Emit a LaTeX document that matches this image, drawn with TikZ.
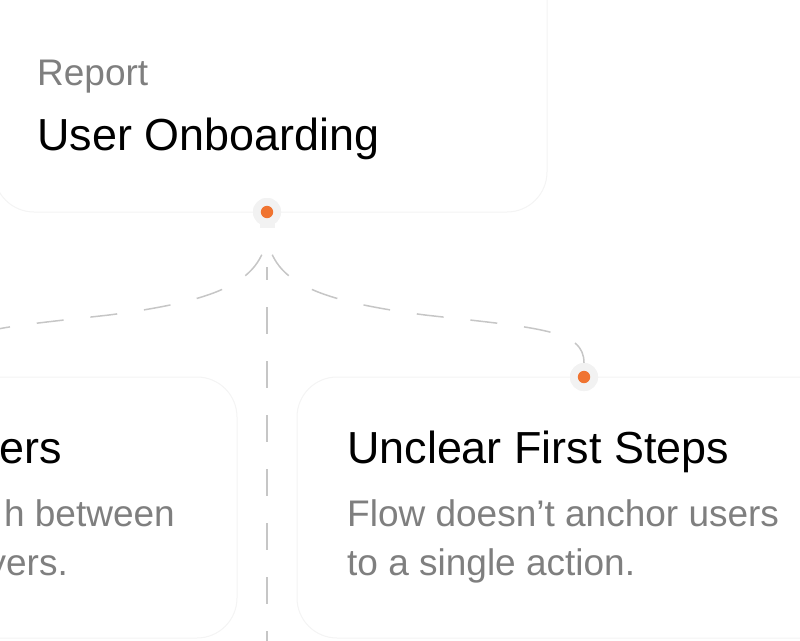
\documentclass[tikz,border=0pt]{standalone}
\usepackage{fontspec}
\setmainfont{Liberation Sans}

\definecolor{pinorange}{HTML}{F07431}
\definecolor{pinback}{HTML}{F2F2F2}
\definecolor{linkgray}{HTML}{C6C6C6}
\definecolor{cardline}{HTML}{F4F4F4}
\definecolor{mutedtext}{HTML}{7F7F7F}

\tikzset{
	card/.style={draw=cardline, line width=1pt, rounded corners=40pt, fill=white},
	pin/.style={circle, fill=pinback, minimum size=28pt, inner sep=0pt},
	link/.style={linkgray, line width=1.5pt, dash pattern=on 27pt off 27pt},
	heading/.style={anchor=base west, inner sep=0pt, text=black, font=\fontsize{44.9}{50}\selectfont},
	body/.style={anchor=base west, inner sep=0pt, text=mutedtext, font=\fontsize{37}{44}\selectfont},
}

\begin{document}
\begin{tikzpicture}[x=1pt,y=-1pt]
		\useasboundingbox (0,0) rectangle (800,640);
		\clip (0,0) rectangle (800,640);

		% cards
		\draw[card] (-6,-60) rectangle (547,212);
		\draw[card] (-300,377) rectangle (237,638);
		\draw[card] (297,377) rectangle (860,638);

		% anchor points
		\coordinate (fork) at (267,238);
		\coordinate (trunkTop) at (267,267);
		\coordinate (trunkEnd) at (267,660);
		\node[pin] (pinTop) at (267,212) {};
		\node[pin] (pinRight) at (584,377) {};
		\node[pin] (pinLeft) at (-50,377) {};

		% links
		\draw[link, dash phase=14pt] (trunkTop) -- (trunkEnd);
		\draw[link, dash phase=36.5pt] (fork) .. controls (275,280) and (310,300) .. (425,315)
				.. controls (540,328) and (584,330) .. (pinRight.north);
		\draw[link, dash phase=36.5pt] (fork) .. controls (259,280) and (224,300) .. (109,315)
				.. controls (-6,328) and (-50,330) .. (pinLeft.north);

		% pins on top of the links
		\fill[pinback] (260,212) rectangle (275,228);
		\foreach \p in {pinTop,pinRight,pinLeft}{
				\fill[pinback] (\p) circle (14pt);
				\fill[pinorange] (\p) circle (6.2pt);
		}

		% texts
		\node[body] (reportTag) at (37,85) {Report};
		\node[heading] (reportTitle) at (37,150) {User Onboarding};

		\node[heading, anchor=base east] (leftTitle) at (62,463) {ers};
		\node[body, anchor=base east] (leftLineA) at (175,526) {h between};
		\node[body, anchor=base east] (leftLineB) at (68,575) {yers.};

		\node[heading] (rightTitle) at (347,463) {Unclear First Steps};
		\node[body] (rightLineA) at (347,526) {Flow doesn’t anchor users};
		\node[body] (rightLineB) at (347,575) {to a single action.};
\end{tikzpicture}
\end{document}
